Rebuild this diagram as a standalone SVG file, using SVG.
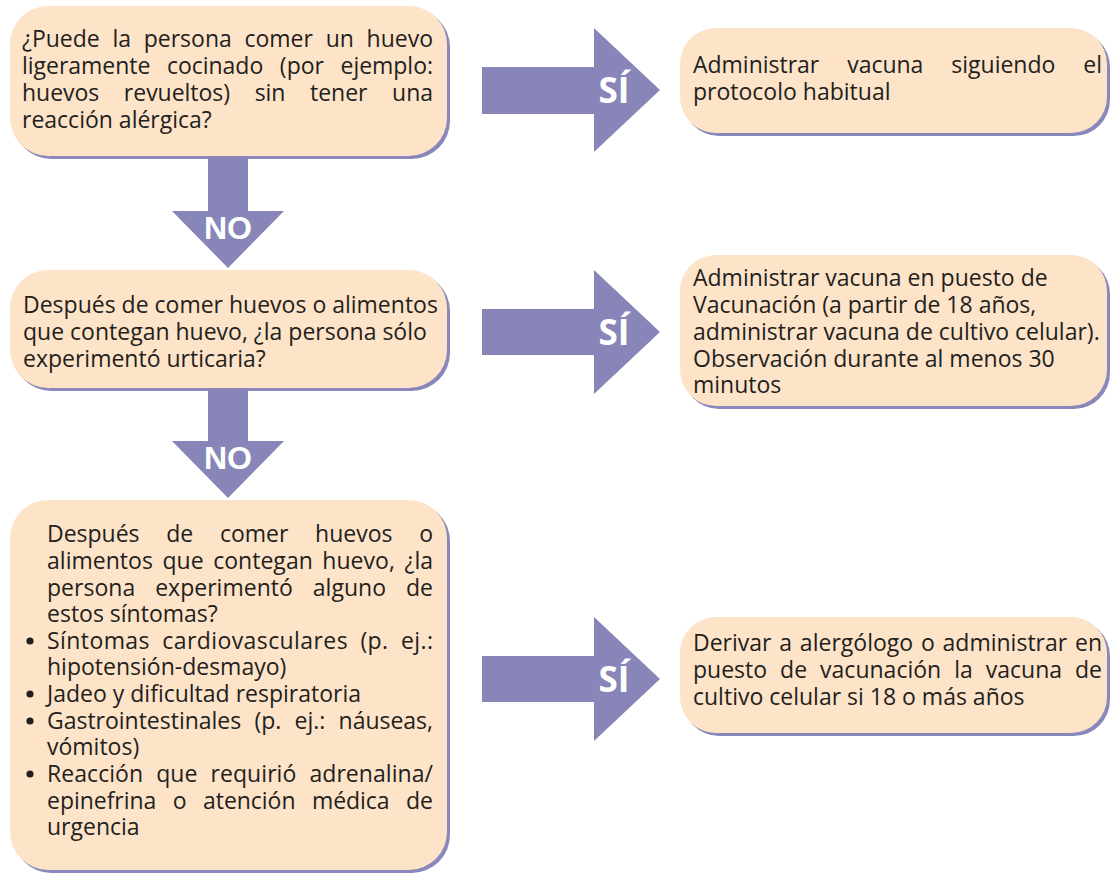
<svg xmlns="http://www.w3.org/2000/svg" width="1110" height="876" viewBox="0 0 1110 876">
<style>
.sh{fill:#8a88bb}
.bx{fill:#fde3c8}
.ar{fill:#8886b9}
.t{font-family:"Open Sans","Noto Sans",sans-serif;font-size:23px;fill:#231f20}
.dot{fill:#231f20}
.si{font-family:"Open Sans","Noto Sans",sans-serif;font-weight:700;font-size:35px;fill:#fff;text-anchor:middle}
.no{font-family:"Liberation Sans",Arial,sans-serif;font-weight:700;font-size:32px;fill:#fff;text-anchor:middle}
</style>
<rect width="1110" height="876" fill="#fff"/>
<g id="connectors">
<polygon class="ar" points="208,158 248,158 248,211 284,211 228,268 172,211 208,211"/>
<text class="no" x="228" y="239">NO</text>
<polygon class="ar" points="208,391 248,391 248,441 284,441 228,498 172,441 208,441"/>
<text class="no" x="228" y="469">NO</text>
<polygon class="ar" points="482,67 594,67 594,28 660,90 594,152 594,114 482,114"/>
<text class="si" x="614" y="103">SÍ</text>
<polygon class="ar" points="482,309 594,309 594,270 660,332 594,394 594,355 482,355"/>
<text class="si" x="614" y="345">SÍ</text>
<polygon class="ar" points="482,656 594,656 594,617 660,679 594,741 594,702 482,702"/>
<text class="si" x="614" y="692">SÍ</text>
</g>
<g id="q1">
<rect class="sh" x="13" y="9" width="437" height="150" rx="38"/>
<rect class="bx" x="10" y="6" width="437" height="150" rx="38"/>
<text class="t" x="22" y="47" word-spacing="6.8" textLength="411" lengthAdjust="spacing">¿Puede la persona comer un huevo</text>
<text class="t" x="22" y="74" word-spacing="10.7" textLength="411" lengthAdjust="spacing">ligeramente cocinado (por ejemplo:</text>
<text class="t" x="22" y="101" word-spacing="18.7" textLength="411" lengthAdjust="spacing">huevos revueltos) sin tener una</text>
<text class="t" x="22" y="128">reacción alérgica?</text>
</g>
<g id="q2">
<rect class="sh" x="13" y="273" width="437" height="118" rx="38"/>
<rect class="bx" x="10" y="270" width="437" height="118" rx="38"/>
<text class="t" x="23" y="313">Después de comer huevos o alimentos</text>
<text class="t" x="23" y="340">que contegan huevo, ¿la persona sólo</text>
<text class="t" x="23" y="367">experimentó urticaria?</text>
</g>
<g id="q3">
<rect class="sh" x="13" y="503" width="437" height="370" rx="38"/>
<rect class="bx" x="10" y="500" width="437" height="370" rx="38"/>
<text class="t" x="47" y="542" word-spacing="20.8" textLength="386" lengthAdjust="spacing">Después de comer huevos o</text>
<text class="t" x="47" y="569" word-spacing="3.5" textLength="386" lengthAdjust="spacing">alimentos que contegan huevo, ¿la</text>
<text class="t" x="47" y="596" word-spacing="14" textLength="386" lengthAdjust="spacing">persona experimentó alguno de</text>
<text class="t" x="47" y="622">estos síntomas?</text>
<circle class="dot" cx="30" cy="641" r="3.6"/>
<text class="t" x="47" y="649" word-spacing="6" textLength="386" lengthAdjust="spacing">Síntomas cardiovasculares (p. ej.:</text>
<text class="t" x="47" y="675">hipotensión-desmayo)</text>
<circle class="dot" cx="30" cy="694" r="3.6"/>
<text class="t" x="47" y="702">Jadeo y dificultad respiratoria</text>
<circle class="dot" cx="30" cy="721" r="3.6"/>
<text class="t" x="47" y="729" word-spacing="7.3" textLength="386" lengthAdjust="spacing">Gastrointestinales (p. ej.: náuseas,</text>
<text class="t" x="47" y="755">vómitos)</text>
<circle class="dot" cx="30" cy="774" r="3.6"/>
<text class="t" x="47" y="782" word-spacing="7" textLength="386" lengthAdjust="spacing">Reacción que requirió adrenalina/</text>
<text class="t" x="47" y="809" word-spacing="10.5" textLength="386" lengthAdjust="spacing">epinefrina o atención médica de</text>
<text class="t" x="47" y="835">urgencia</text>
</g>
<g id="r1">
<rect class="sh" x="683" y="31" width="427" height="105" rx="36"/>
<rect class="bx" x="680" y="28" width="427" height="105" rx="36"/>
<text class="t" x="693" y="73" word-spacing="22" textLength="409" lengthAdjust="spacing">Administrar vacuna siguiendo el</text>
<text class="t" x="693" y="100">protocolo habitual</text>
</g>
<g id="r2">
<rect class="sh" x="683" y="258" width="427" height="151" rx="36"/>
<rect class="bx" x="680" y="255" width="427" height="151" rx="36"/>
<text class="t" x="693" y="286">Administrar vacuna en puesto de</text>
<text class="t" x="693" y="313">Vacunación (a partir de 18 años,</text>
<text class="t" x="693" y="340">administrar vacuna de cultivo celular).</text>
<text class="t" x="693" y="367">Observación durante al menos 30</text>
<text class="t" x="693" y="393">minutos</text>
</g>
<g id="r3">
<rect class="sh" x="683" y="620" width="427" height="116" rx="36"/>
<rect class="bx" x="680" y="617" width="427" height="116" rx="36"/>
<text class="t" x="693" y="651" word-spacing="1.8" textLength="409" lengthAdjust="spacing">Derivar a alergólogo o administrar en</text>
<text class="t" x="693" y="678" word-spacing="7" textLength="409" lengthAdjust="spacing">puesto de vacunación la vacuna de</text>
<text class="t" x="693" y="705">cultivo celular si 18 o más años</text>
</g>
</svg>
